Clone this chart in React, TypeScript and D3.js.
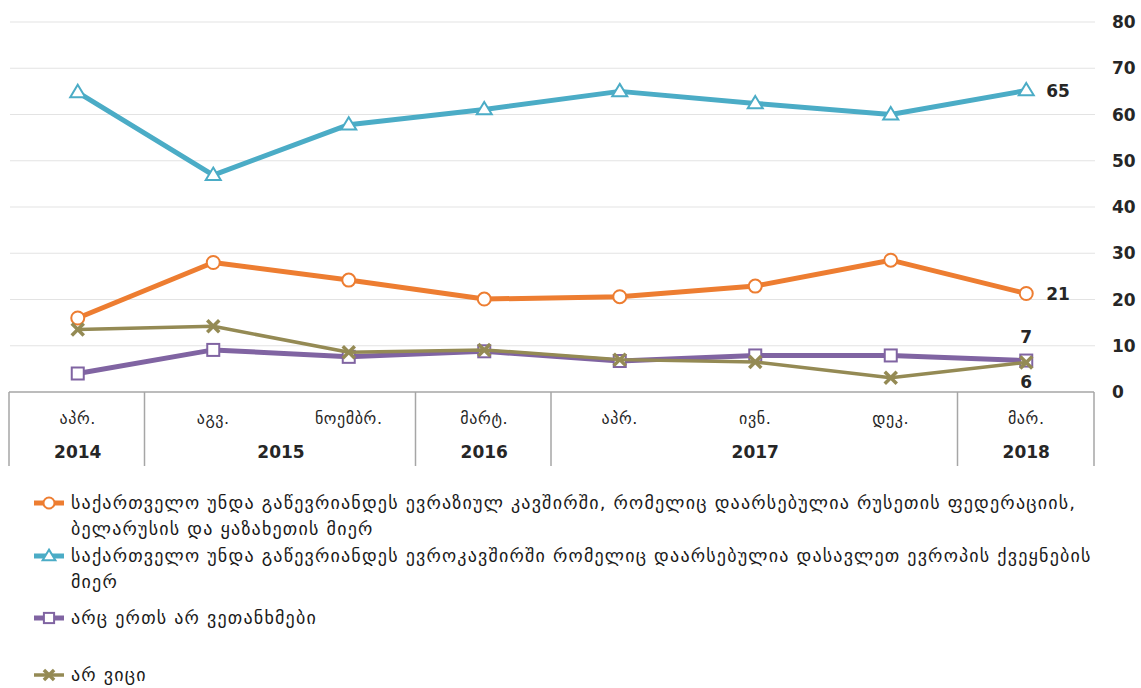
import React from "react";
import * as d3 from "d3";

const months = ["აპრ.", "აგვ.", "ნოემბრ.", "მარტ.", "აპრ.", "ივნ.", "დეკ.", "მარ."];
const years = [
  { label: "2014", from: 0, to: 0 },
  { label: "2015", from: 1, to: 2 },
  { label: "2016", from: 3, to: 3 },
  { label: "2017", from: 4, to: 6 },
  { label: "2018", from: 7, to: 7 },
];
const yTicks = [0, 10, 20, 30, 40, 50, 60, 70, 80];

const eaeu = [16, 28, 24.2, 20.1, 20.6, 22.9, 28.5, 21.3];
const eu = [64.8, 46.9, 57.8, 61.1, 65, 62.4, 60, 65.2];
const neither = [4, 9.1, 7.6, 8.8, 6.7, 7.9, 7.9, 6.8];
const dontKnow = [13.5, 14.2, 8.6, 9.1, 7, 6.5, 3.1, 6.4];

const legendEaeu = [
  "საქართველო უნდა გაწევრიანდეს ევრაზიულ კავშირში, რომელიც დაარსებულია რუსეთის ფედერაციის,",
  "ბელარუსის და ყაზახეთის მიერ",
];
const legendEu = [
  "საქართველო უნდა გაწევრიანდეს ევროკავშირში რომელიც დაარსებულია დასავლეთ ევროპის ქვეყნების",
  "მიერ",
];
const legendNeither = ["არც ერთს არ ვეთანხმები"];
const legendDontKnow = ["არ ვიცი"];

const W = 1141;
const H = 688;
const FONT = "'DejaVu Sans', Verdana, sans-serif";

type Marker = "circle" | "triangle" | "square" | "x";
const series: { values: number[]; color: string; width: number; marker: Marker; legend: string[]; legendY: number }[] = [
  { values: eu, color: "#4BACC6", width: 5, marker: "triangle", legend: legendEu, legendY: 556 },
  { values: eaeu, color: "#ED7D31", width: 5, marker: "circle", legend: legendEaeu, legendY: 503 },
  { values: neither, color: "#8064A2", width: 5, marker: "square", legend: legendNeither, legendY: 618 },
  { values: dontKnow, color: "#948A54", width: 3.5, marker: "x", legend: legendDontKnow, legendY: 675 },
];

function MarkerShape({ type, cx, cy, color, k = 1 }: { type: Marker; cx: number; cy: number; color: string; k?: number }) {
  if (type === "circle") return <circle cx={cx} cy={cy} r={6.5 * k} fill="#fff" stroke={color} strokeWidth={2} />;
  if (type === "triangle") {
    const s = 7.5 * k;
    const pts = `${cx},${cy - s} ${cx + s},${cy + s * 0.65} ${cx - s},${cy + s * 0.65}`;
    return <polygon points={pts} fill="#fff" stroke={color} strokeWidth={2} />;
  }
  if (type === "square")
    return <rect x={cx - 6 * k} y={cy - 6 * k} width={12 * k} height={12 * k} fill="#fff" stroke={color} strokeWidth={2} />;
  const s = 6 * k;
  return (
    <g stroke={color} strokeWidth={3.5}>
      <line x1={cx - s} y1={cy - s} x2={cx + s} y2={cy + s} />
      <line x1={cx - s} y1={cy + s} x2={cx + s} y2={cy - s} />
    </g>
  );
}

export default function App() {
  const x = d3.scaleBand<number>().domain(d3.range(months.length)).range([10, 1094]).padding(0);
  const cx = (i: number) => (x(i) as number) + x.bandwidth() / 2;
  const y = d3.scaleLinear().domain([0, 80]).range([392, 22]);
  const line = d3
    .line<number>()
    .x((_, i) => cx(i))
    .y((d) => y(d));

  const boundaries = [0, ...years.map((yr) => yr.to + 1)];
  const last = months.length - 1;

  return (
    <svg width={W} height={H} style={{ position: "absolute", left: 0, top: 0, background: "#fff" }} fontFamily={FONT}>
      {yTicks.slice(1).map((t) => (
        <line key={t} x1={10} x2={1095} y1={y(t)} y2={y(t)} stroke="#e3e3e3" strokeWidth={1.2} />
      ))}
      {yTicks.map((t) => (
        <text key={t} x={1112} y={y(t)} dy="0.36em" fontSize={17} fontWeight="bold" fill="#262626">
          {t}
        </text>
      ))}
      <line x1={9} x2={1094} y1={y(0)} y2={y(0)} stroke="#a6a6a6" strokeWidth={1.5} />
      {boundaries.map((b, i) => {
        const bx = b === months.length ? 1094 : (x(b) as number) - 1;
        return <line key={i} x1={bx} x2={bx} y1={y(0)} y2={466} stroke="#a6a6a6" strokeWidth={1.5} />;
      })}
      {months.map((m, i) => (
        <text key={i} x={cx(i)} y={418} dy="0.35em" textAnchor="middle" fontSize={16} letterSpacing={0.6} fill="#262626">
          {m}
        </text>
      ))}
      {years.map((yr) => (
        <text
          key={yr.label}
          x={(cx(yr.from) + cx(yr.to)) / 2}
          y={452}
          dy="0.35em"
          textAnchor="middle"
          fontSize={17}
          fontWeight="bold"
          fill="#262626"
        >
          {yr.label}
        </text>
      ))}
      {series.map((s, si) => (
        <g key={si}>
          <path d={line(s.values) || ""} fill="none" stroke={s.color} strokeWidth={s.width} strokeLinejoin="round" />
          {s.values.map((v, i) => (
            <MarkerShape key={i} type={s.marker} cx={cx(i)} cy={y(v)} color={s.color} />
          ))}
        </g>
      ))}
      <text x={cx(last) + 20} y={y(eu[last])} dy="0.36em" fontSize={17} fontWeight="bold" fill="#262626">
        {Math.round(eu[last])}
      </text>
      <text x={cx(last) + 20} y={y(eaeu[last])} dy="0.36em" fontSize={17} fontWeight="bold" fill="#262626">
        {Math.round(eaeu[last])}
      </text>
      <text x={cx(last)} y={y(neither[last]) - 24} dy="0.36em" textAnchor="middle" fontSize={17} fontWeight="bold" fill="#262626">
        {Math.round(neither[last])}
      </text>
      <text x={cx(last)} y={y(dontKnow[last]) + 19} dy="0.36em" textAnchor="middle" fontSize={17} fontWeight="bold" fill="#262626">
        {Math.round(dontKnow[last])}
      </text>
      {series.map((s, si) => (
        <g key={"lg" + si}>
          <line x1={34} x2={64} y1={s.legendY} y2={s.legendY} stroke={s.color} strokeWidth={s.width} />
          <MarkerShape type={s.marker} cx={49} cy={s.legendY} color={s.color} k={0.85} />
          {s.legend.map((ln, li) => (
            <text key={li} x={71} y={s.legendY + li * 26} dy="0.35em" fontSize={18} letterSpacing={1.2} fill="#1a1a1a">
              {ln}
            </text>
          ))}
        </g>
      ))}
    </svg>
  );
}
